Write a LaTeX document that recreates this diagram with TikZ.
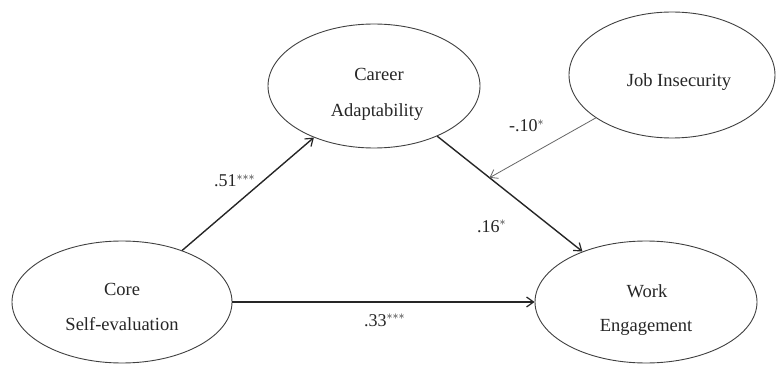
\documentclass[tikz,border=0pt]{standalone}
\usepackage{fontspec}
\setmainfont{Liberation Serif}
\usetikzlibrary{shapes.geometric,arrows.meta}
\begin{document}
\begin{tikzpicture}[x=1pt,y=-1pt,
  latent/.style={ellipse,draw=black!75,line width=0.9pt,inner sep=0pt},
  txt/.style={anchor=base,inner sep=0pt,font=\fontsize{18.5}{20}\selectfont,text=black!85},
  coef/.style={anchor=base west,inner sep=0pt,font=\fontsize{18}{20}\selectfont,text=black!85},
  path/.style={line width=1.4pt,draw=black!85,-{Straight Barb[length=7pt,width=10pt,line width=1.2pt]}},
  modpath/.style={line width=0.8pt,draw=black!60,-{Straight Barb[length=7pt,width=10pt,line width=0.8pt]}}]
\useasboundingbox (0,0) rectangle (776,366);
\fill[white] (0,0) rectangle (776,366);
% latent variables
\node[latent,minimum width=220pt,minimum height=122pt] (cs) at (122,302) {};
\node[latent,minimum width=212pt,minimum height=124pt] (ca) at (374,86) {};
\node[latent,minimum width=206pt,minimum height=126pt] (ji) at (672,75) {};
\node[latent,minimum width=222pt,minimum height=122pt] (we) at (646,302) {};
% texts
\node[txt] (cs1) at (122,295) {Core};
\node[txt] (cs2) at (122,330) {Self-evaluation};
\node[txt] (ca1) at (379,81) {Career};
\node[txt] (ca2) at (377,117) {Adaptability};
\node[txt] (ji1) at (679,87) {Job Insecurity};
\node[txt] (we1) at (647,297) {Work};
\node[txt] (we2) at (646,331) {Engagement};
% paths
\draw[path] (cs) -- (ca);
\draw[path] (cs) -- (we);
\draw[path] (ca) -- coordinate[pos=0.36] (m) (we);
\draw[modpath] (ji) -- (m);
% coefficients
\node[coef] (c51) at (214,187) {.51$^{\ast\ast\ast}$};
\node[coef] (c10) at (509,132) {-.10$^{\ast}$};
\node[coef] (c16) at (477,232) {.16$^{\ast}$};
\node[coef] (c33) at (364,326) {.33$^{\ast\ast\ast}$};
\end{tikzpicture}
\end{document}
